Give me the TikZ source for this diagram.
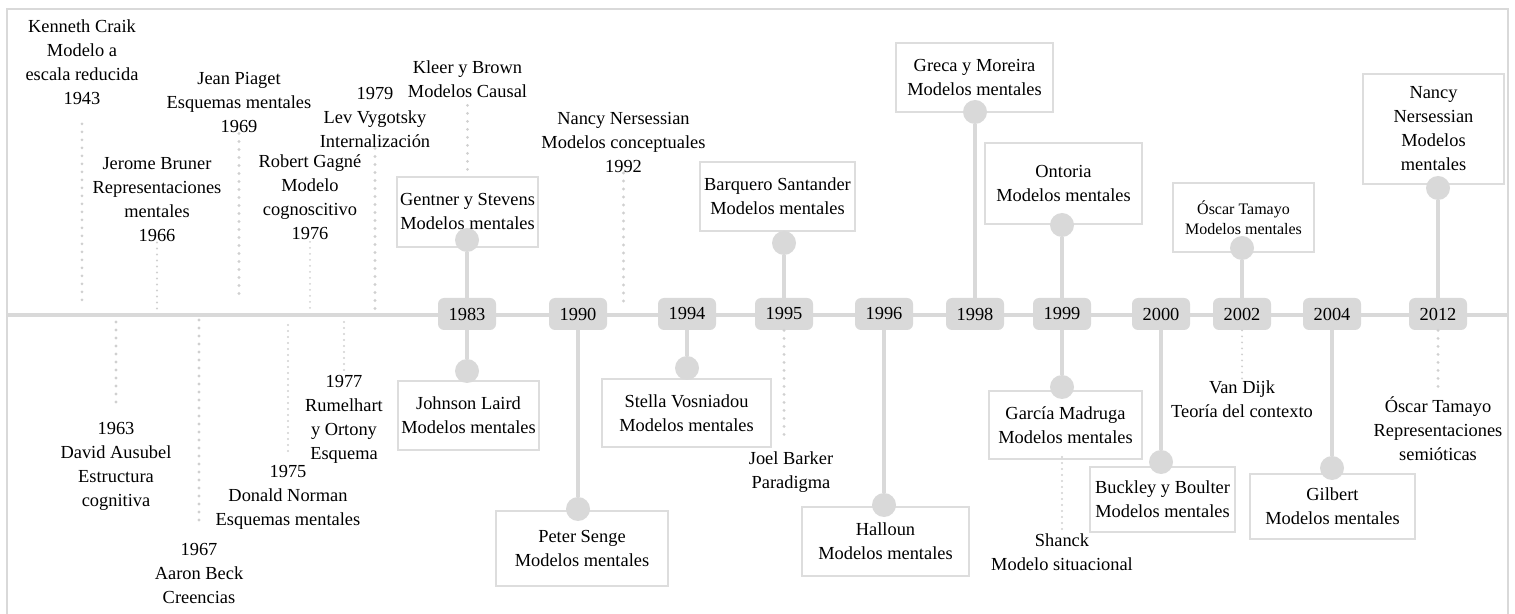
\documentclass[tikz,border=0pt]{standalone}
\usepackage{fontspec}
\setmainfont{Liberation Serif}
\usetikzlibrary{positioning}
\definecolor{rail}{HTML}{D9D9D9}
\definecolor{edgegray}{HTML}{DDDDDD}
\definecolor{dotgray}{HTML}{D0D0D0}

\begin{document}
\begin{tikzpicture}[x=0.5pt,y=-0.5pt,font=\fontsize{9.2}{12}\selectfont]
  \tikzstyle{yearbox}=[rounded corners=3pt, fill=rail, minimum width=29pt, minimum height=16pt, inner sep=0pt]
  \tikzstyle{bead}=[circle, fill=rail, minimum size=12pt, inner sep=0pt]
  \tikzstyle{card}=[draw=edgegray, line width=0.7pt, fill=white, align=center, inner sep=0pt]
  \tikzstyle{lbl}=[align=center, inner sep=0pt]
  \tikzstyle{stem}=[draw=rail, line width=2pt]
  \tikzstyle{dotline}=[draw=dotgray, line width=1.6pt, line cap=round, dash pattern=on 0pt off 4pt]
  \tikzstyle{dotfine}=[draw=dotgray, line width=1.1pt, line cap=round, dash pattern=on 0pt off 3pt]
  \useasboundingbox (0,0) rectangle (1515,614);
  \draw[rail, line width=1pt] (7,614) -- (7,9) -- (1508,9) -- (1508,614);
  \draw[rail, line width=2pt] (7,315) -- (1508,315);
  % years on the axis
  \node[yearbox] (y1983) at (467,314) {1983};
  \node[yearbox] (y1990) at (578,314) {1990};
  \node[yearbox] (y1994) at (687,314) {1994};
  \node[yearbox] (y1995) at (784,314) {1995};
  \node[yearbox] (y1996) at (884,314) {1996};
  \node[yearbox] (y1998) at (975,314) {1998};
  \node[yearbox] (y1999) at (1062,314) {1999};
  \node[yearbox] (y2000) at (1161,314) {2000};
  \node[yearbox] (y2002) at (1242,314) {2002};
  \node[yearbox] (y2004) at (1332,314) {2004};
  \node[yearbox] (y2012) at (1438,314) {2012};
  % plain labels above
  \node[lbl] (craik) at (82,62) {Kenneth Craik\\Modelo a\\escala reducida\\1943};
  \node[lbl] (bruner) at (157,200) {Jerome Bruner\\Representaciones\\mentales\\1966};
  \node[lbl] (piaget) at (239,103) {Jean Piaget\\Esquemas mentales\\1969};
  \node[lbl] (gagne) at (310,197) {Robert Gagné\\Modelo\\cognoscitivo\\1976};
  \node[lbl] (vygotsky) at (375,118) {1979\\Lev Vygotsky\\Internalización};
  \node[lbl] (kleer) at (467.5,79.5) {Kleer y Brown\\Modelos Causal};
  \node[lbl] (nersessian) at (623.5,142.5) {Nancy Nersessian\\Modelos conceptuales\\1992};
  % plain labels below
  \node[lbl] (ausubel) at (116,466.5) {1963\\David Ausubel\\Estructura\\cognitiva};
  \node[lbl] (beck) at (199,573) {1967\\Aaron Beck\\Creencias};
  \node[lbl] (norman) at (288,497) {1975\\Donald Norman\\Esquemas mentales};
  \node[lbl] (rumelhart) at (344,419) {1977\\Rumelhart\\y Ortony\\Esquema};
  \node[lbl] (barker) at (791,472) {Joel Barker\\Paradigma};
  \node[lbl] (shanck) at (1062,552.5) {Shanck\\Modelo situacional};
  \node[lbl] (vandijk) at (1242,399.5) {Van Dijk\\Teoría del contexto};
  \node[lbl] (tamayoB) at (1438,429) {Óscar Tamayo\\Representaciones\\semióticas};
  % free ends near the axis
  \coordinate (c1943) at (82,302);
  \coordinate (c1966) at (157,313);
  \coordinate (c1969) at (239,298);
  \coordinate (c1976) at (310,313);
  \coordinate (c1979) at (375,312);
  \coordinate (c1992) at (623.5,302);
  \coordinate (c1963) at (116,322);
  \coordinate (c1967) at (199,320);
  \coordinate (c1975) at (288,325);
  \coordinate (c1977) at (344,322);
  \coordinate (jbarker) at (784,437);
  \coordinate (sh1999) at (1062,457);
  % boxed entries
  \node[card, minimum width=70.5pt, minimum height=35pt] (gentner) at (467.5,212) {Gentner y Stevens\\Modelos mentales};
  \node[card, minimum width=70.5pt, minimum height=34.5pt] (laird) at (468.5,415.5) {Johnson Laird\\Modelos mentales};
  \node[card, minimum width=86pt, minimum height=37.5pt] (senge) at (582,548.5) {Peter Senge\\Modelos mentales};
  \node[card, minimum width=84.5pt, minimum height=34pt] (vosniadou) at (686.5,413) {Stella Vosniadou\\Modelos mentales};
  \node[card, minimum width=77.5pt, minimum height=34.5pt] (barquero) at (777.5,196.5) {Barquero Santander\\Modelos mentales};
  \node[card, minimum width=83.5pt, minimum height=34.5pt] (halloun) at (885.5,541.5) {Halloun\\Modelos mentales};
  \node[card, minimum width=78.5pt, minimum height=34.5pt] (greca) at (974.5,77.5) {Greca y Moreira\\Modelos mentales};
  \node[card, minimum width=78.5pt, minimum height=40.5pt] (ontoria) at (1063.5,183.5) {Ontoria\\Modelos mentales};
  \node[card, minimum width=76.5pt, minimum height=34pt] (madruga) at (1065.5,425) {García Madruga\\Modelos mentales};
  \node[card, minimum width=72.5pt, minimum height=32.5pt] (buckley) at (1162.5,499.5) {Buckley y Boulter\\Modelos mentales};
  \node[card, minimum width=70.5pt, minimum height=34.5pt, font=\fontsize{8}{10}\selectfont] (tamayoA) at (1243.5,217.5) {Óscar Tamayo\\Modelos mentales};
  \node[card, minimum width=82.5pt, minimum height=32.5pt] (gilbert) at (1332.5,506.5) {Gilbert\\Modelos mentales};
  \node[card, minimum width=70.5pt, minimum height=55pt] (nancy) at (1433.5,129) {Nancy\\Nersessian\\Modelos\\mentales};
  % beads
  \node[bead] (bgentner) at (467,240) {};
  \node[bead] (blaird) at (467,371) {};
  \node[bead] (bsenge) at (578,509) {};
  \node[bead] (bvosniadou) at (687,368) {};
  \node[bead] (bbarquero) at (784,243) {};
  \node[bead] (bhalloun) at (884,505) {};
  \node[bead] (bgreca) at (975,112) {};
  \node[bead] (bontoria) at (1062,225) {};
  \node[bead] (bmadruga) at (1062,387) {};
  \node[bead] (bbuckley) at (1161,462) {};
  \node[bead] (btamayo) at (1242,248) {};
  \node[bead] (bgilbert) at (1332,468) {};
  \node[bead] (bnancy) at (1438,188) {};
  \path [stem]
    (y1983) edge (bgentner)
    (y1983) edge (blaird)
    (y1990) edge (bsenge)
    (y1994) edge (bvosniadou)
    (y1995) edge (bbarquero)
    (y1996) edge (bhalloun)
    (y1998) edge (bgreca)
    (y1999) edge (bontoria)
    (y1999) edge (bmadruga)
    (y2000) edge (bbuckley)
    (y2002) edge (btamayo)
    (y2004) edge (bgilbert)
    (y2012) edge (bnancy)
    ;
  \path [dotline]
    (craik) edge[shorten <=9.5pt] (c1943)
    (piaget) edge (c1969)
    (vygotsky) edge (c1979)
    (kleer) edge[shorten <=3.5pt] (gentner)
    (nersessian) edge (c1992)
    (c1963) edge[shorten >=6.5pt] (ausubel)
    (c1967) edge[shorten >=9pt] (beck)
    (y1995) edge (jbarker)
    (y2012) edge[shorten >=5pt] (tamayoB)
    ;
  \path [dotfine]
    (bruner) edge (c1966)
    (gagne) edge[shorten <=1pt] (c1976)
    (c1975) edge[shorten >=5.5pt] (norman)
    (c1977) edge (rumelhart)
    (sh1999) edge[shorten >=1.5pt] (shanck)
    (y2002) edge (vandijk)
    ;
\end{tikzpicture}
\end{document}
